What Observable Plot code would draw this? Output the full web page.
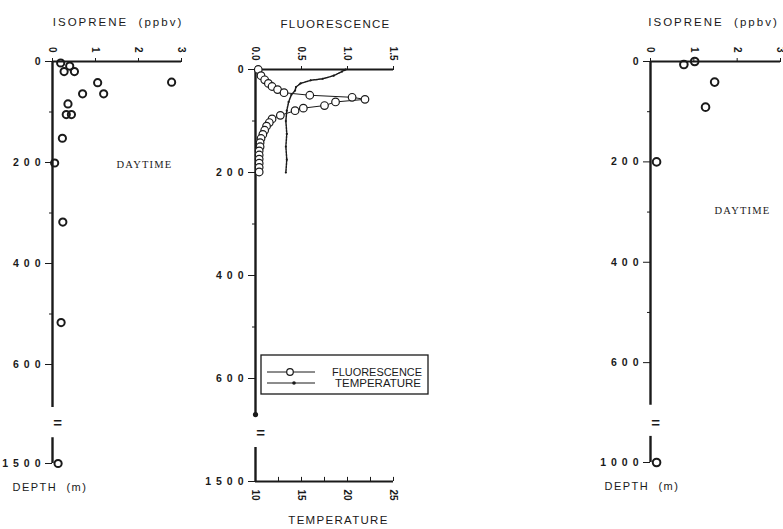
<!DOCTYPE html>
<html><head><meta charset="utf-8">
<script src="https://cdn.jsdelivr.net/npm/d3@7"></script>
<script src="https://cdn.jsdelivr.net/npm/@observablehq/plot@0.6"></script>
<style>
body{margin:0;background:#fff}
#c{position:relative;width:783px;height:529px;overflow:hidden;background:#fff}
#c svg{position:absolute;left:0;top:0;overflow:visible}
</style></head><body><div id="c"></div>
<script>
// ---------- data ----------
const depthTickValues = [0, 200, 400, 600];
const depthMinorTicks = [100, 300, 500];
const isoTicks = [0, 1, 2, 3];
const fluorTicks = [0, 0.5, 1.0, 1.5];
const tempTicks = [10, 15, 20, 25];
const tempMinorTicks = [12.5, 17.5, 22.5];

// left panel: isoprene (ppbv) vs depth (m)
const iso1Depth = [3, 9, 20, 20, 42, 41, 64, 64, 84, 105, 105, 152, 201, 318, 517, 1500];
const iso1Value = [0.19, 0.40, 0.27, 0.51, 1.05, 2.77, 0.70, 1.19, 0.36, 0.32, 0.44, 0.23, 0.05, 0.24, 0.20, 0.13];
const iso1Deep = 1500;

// right panel: isoprene (ppbv) vs depth (m)
const iso2Depth = [0, 6, 41, 91, 200, 1000];
const iso2Value = [1.02, 0.77, 1.48, 1.27, 0.14, 0.14];
const iso2Deep = 1000;

// middle panel: fluorescence and temperature vs depth
const fluorDepth = [0, 12, 20, 27, 33, 39, 45, 50, 54, 58, 63, 70, 75, 80, 89, 96, 103, 110, 118, 126, 134, 142, 150, 158, 166, 174, 182, 190, 199];
const fluorValue = [0.03, 0.06, 0.10, 0.14, 0.18, 0.24, 0.31, 0.59, 1.05, 1.19, 0.87, 0.75, 0.52, 0.43, 0.27, 0.18, 0.15, 0.12, 0.10, 0.08, 0.06, 0.05, 0.05, 0.04, 0.04, 0.04, 0.04, 0.04, 0.04];
const tempDepth = [0, 4, 12, 18, 21, 27, 34, 41, 49, 63, 80, 100, 125, 150, 175, 200];
const tempValue = [19.8, 19.4, 18.5, 17.3, 16.0, 14.9, 14.4, 14.3, 13.9, 13.6, 13.4, 13.3, 13.4, 13.3, 13.4, 13.3];
const fluorDeep = 1500;

const iso1 = iso1Depth.map((d, i) => ({d, v: iso1Value[i]}));
const iso2 = iso2Depth.map((d, i) => ({d, v: iso2Value[i]}));
const fluor = fluorDepth.map((d, i) => ({d, v: fluorValue[i]}));
const temp = tempDepth.map((d, i) => ({d, t: tempValue[i]}));

// ---------- layout ----------
const W = 783, H = 529;
const P1 = {x0: 52, x1: 181, y0: 61, y1: 463, bottom: 796, brkEnd: 685, brkResume: 745, brkMid: 717, deep: iso1Deep};
const P2 = {x0: 255, x1: 393, y0: 69, y1: 481, bottom: 800, brkEnd: 670, brkResume: 734, brkMid: 707, deep: fluorDeep};
const P3 = {x0: 650, x1: 780, y0: 61, y1: 462, bottom: 799, brkEnd: 685, brkResume: 747, brkMid: 721, deep: iso2Deep};

const INK = "#1a1a1a";
const FONT = "Liberation Sans, Arial, sans-serif";
const SERIF = "Liberation Serif, Times New Roman, serif";
const container = document.getElementById("c");

function brkFn(P) { return d => d > 700 ? P.bottom : d; }

function depthAxisMarks(P) {
  const brk = brkFn(P);
  const vals = [...depthTickValues, P.deep];
  const lab = new Map(vals.map(v => [brk(v), String(v)]));
  return [
    Plot.ruleX([0], {y1: 0, y2: P.brkEnd, stroke: INK, strokeWidth: 2.4}),
    Plot.ruleX([0], {y1: P.brkResume, y2: P.bottom, stroke: INK, strokeWidth: 2.4}),
    Plot.axisY({ticks: [...lab.keys()], tickFormat: v => lab.get(v), tickSize: 7, tickPadding: 0,
      fontSize: 10.5, fontWeight: "bold", label: null, stroke: INK, fill: INK}),
    Plot.axisY({ticks: depthMinorTicks, tickFormat: () => "", tickSize: 3, label: null, stroke: INK}),
    Plot.text(["="], {x: 0, y: P.brkMid, dx: 5, fontSize: 15, fontWeight: "bold", fill: INK})
  ];
}

function base(P, xDomain, yAxis) {
  return {
    width: W, height: H,
    marginLeft: P.x0, marginRight: W - P.x1, marginTop: P.y0, marginBottom: H - P.y1,
    x: {domain: xDomain},
    y: yAxis === null ? {domain: [0, P.bottom], reverse: true, axis: null} : {domain: [0, P.bottom], reverse: true},
    style: {background: "transparent", fontFamily: FONT, color: INK, overflow: "visible"}
  };
}

function post(svg) {
  d3.select(svg).selectAll('g[aria-label="y-axis tick label"] text').attr("letter-spacing", 5);
  container.appendChild(svg);
}

// ---------- panel 1 ----------
{
  const P = P1, brk = brkFn(P);
  post(Plot.plot({
    ...base(P, [0, 3]),
    marks: [
      Plot.ruleY([0], {stroke: INK, strokeWidth: 2.2}),
      Plot.axisX({anchor: "top", ticks: isoTicks, tickFormat: d => String(d), tickSize: 4, tickPadding: 5, tickRotate: 90,
        fontSize: 10, fontWeight: "bold", label: null, stroke: INK, fill: INK}),
      ...depthAxisMarks(P),
      Plot.dot(iso1, {x: "v", y: d => brk(d.d), r: 3.6, stroke: INK, strokeWidth: 2, fill: "none"}),
      Plot.text(["ISOPRENE  (ppbv)"], {frameAnchor: "top", dx: 1, dy: -39, fontSize: 11.5, fill: INK, lineAnchor: "middle"}),
      Plot.text(["DAYTIME"], {frameAnchor: "top-left", textAnchor: "middle", dx: 92, dy: 103, fontSize: 10.5, fontFamily: SERIF, fill: INK, lineAnchor: "middle"}),
      Plot.text(["DEPTH  (m)"], {frameAnchor: "bottom-left", dx: -40, dy: 24, textAnchor: "start", fontSize: 11, fill: INK, lineAnchor: "middle"})
    ]
  }));
}

// ---------- panel 2: fluorescence ----------
{
  const P = P2;
  post(Plot.plot({
    ...base(P, [0, 1.5]),
    marks: [
      Plot.ruleY([0], {stroke: INK, strokeWidth: 2.2}),
      Plot.axisX({anchor: "top", ticks: fluorTicks, tickFormat: d3.format(".1f"), tickSize: 4, tickPadding: 5, tickRotate: 90,
        fontSize: 10, fontWeight: "bold", label: null, stroke: INK, fill: INK}),
      ...depthAxisMarks(P),
      Plot.dot([0], {x: d => d, y: P.brkEnd, r: 2.6, fill: INK}),
      Plot.line(fluor, {x: "v", y: "d", stroke: INK, strokeWidth: 1}),
      Plot.dot(fluor, {x: "v", y: "d", r: 3.8, stroke: INK, strokeWidth: 1.2, fill: "white"}),
      Plot.text(["FLUORESCENCE"], {frameAnchor: "top", dx: 11, dy: -45, fontSize: 11.5, fill: INK, lineAnchor: "middle"})
    ]
  }));
}

// ---------- panel 2: temperature (second x scale, same frame) ----------
{
  const P = P2;
  post(Plot.plot({
    ...base(P, [10, 25], null),
    marks: [
      Plot.ruleY([P.bottom], {stroke: INK, strokeWidth: 2.2}),
      Plot.ruleX([...tempTicks, ...tempMinorTicks], {y1: P.bottom, y2: P.bottom - 8, stroke: INK, strokeWidth: 1}),
      Plot.axisX({anchor: "bottom", ticks: tempTicks, tickFormat: d => String(d), tickSize: 0, tickPadding: 8, tickRotate: 90,
        fontSize: 10, fontWeight: "bold", label: null, fill: INK}),
      Plot.line(temp, {x: "t", y: "d", stroke: INK, strokeWidth: 1.5, strokeDasharray: "2,1"}),
      Plot.dot(temp, {x: "t", y: "d", r: 1.1, fill: INK}),
      Plot.text(["TEMPERATURE"], {frameAnchor: "bottom", dx: 14, dy: 39, fontSize: 11.5, fill: INK, lineAnchor: "middle"})
    ]
  }));
}

// ---------- panel 3 ----------
{
  const P = P3, brk = brkFn(P);
  post(Plot.plot({
    ...base(P, [0, 3]),
    marks: [
      Plot.ruleY([0], {stroke: INK, strokeWidth: 2.2}),
      Plot.axisX({anchor: "top", ticks: isoTicks, tickFormat: d => String(d), tickSize: 4, tickPadding: 5, tickRotate: 90,
        fontSize: 10, fontWeight: "bold", label: null, stroke: INK, fill: INK}),
      ...depthAxisMarks(P),
      Plot.dot(iso2, {x: "v", y: d => brk(d.d), r: 3.8, stroke: INK, strokeWidth: 2, fill: "none"}),
      Plot.text(["ISOPRENE  (ppbv)"], {frameAnchor: "top", dx: -2, dy: -39, fontSize: 11.5, fill: INK, lineAnchor: "middle"}),
      Plot.text(["DAYTIME"], {frameAnchor: "top-left", textAnchor: "middle", dx: 92, dy: 149, fontSize: 10.5, fontFamily: SERIF, fill: INK, lineAnchor: "middle"}),
      Plot.text(["DEPTH  (m)"], {frameAnchor: "bottom-left", dx: -46, dy: 24, textAnchor: "start", fontSize: 11, fill: INK, lineAnchor: "middle"})
    ]
  }));
}

// letter spacing for titles / labels
d3.selectAll("#c svg text").each(function() {
  const t = this.textContent;
  if (t === "ISOPRENE  (ppbv)") d3.select(this).attr("letter-spacing", 2);
  if (t === "FLUORESCENCE" || t === "TEMPERATURE") d3.select(this).attr("letter-spacing", 1.3);
  if (t === "DAYTIME") d3.select(this).attr("letter-spacing", 1.2);
  if (t === "DEPTH  (m)") d3.select(this).attr("letter-spacing", 1.5);
});

// ---------- legend (middle panel) ----------
{
  const lg = d3.select(container).append("svg").attr("width", W).attr("height", H);
  lg.append("rect").attr("x", 261).attr("y", 355).attr("width", 167).attr("height", 39)
    .attr("fill", "white").attr("stroke", INK).attr("stroke-width", 1.3);
  const rows = [{name: "FLUORESCENCE", y: 372, sym: "circle", tx: 332}, {name: "TEMPERATURE", y: 383, sym: "dot", tx: 335}];
  rows.forEach(r => {
    lg.append("line").attr("x1", 267).attr("x2", 315).attr("y1", r.y).attr("y2", r.y).attr("stroke", INK).attr("stroke-width", 1);
    if (r.sym === "circle") lg.append("circle").attr("cx", 290).attr("cy", r.y).attr("r", 3.3).attr("fill", "white").attr("stroke", INK).attr("stroke-width", 1.2);
    else lg.append("circle").attr("cx", 294).attr("cy", r.y).attr("r", 1.8).attr("fill", INK);
    lg.append("text").attr("x", r.tx).attr("y", r.y).attr("dy", "0.35em").attr("font-family", FONT)
      .attr("font-size", 10).attr("fill", INK).attr("textLength", r.name === "FLUORESCENCE" ? 90 : 86)
      .attr("lengthAdjust", "spacingAndGlyphs").text(r.name);
  });
}
</script></body></html>
